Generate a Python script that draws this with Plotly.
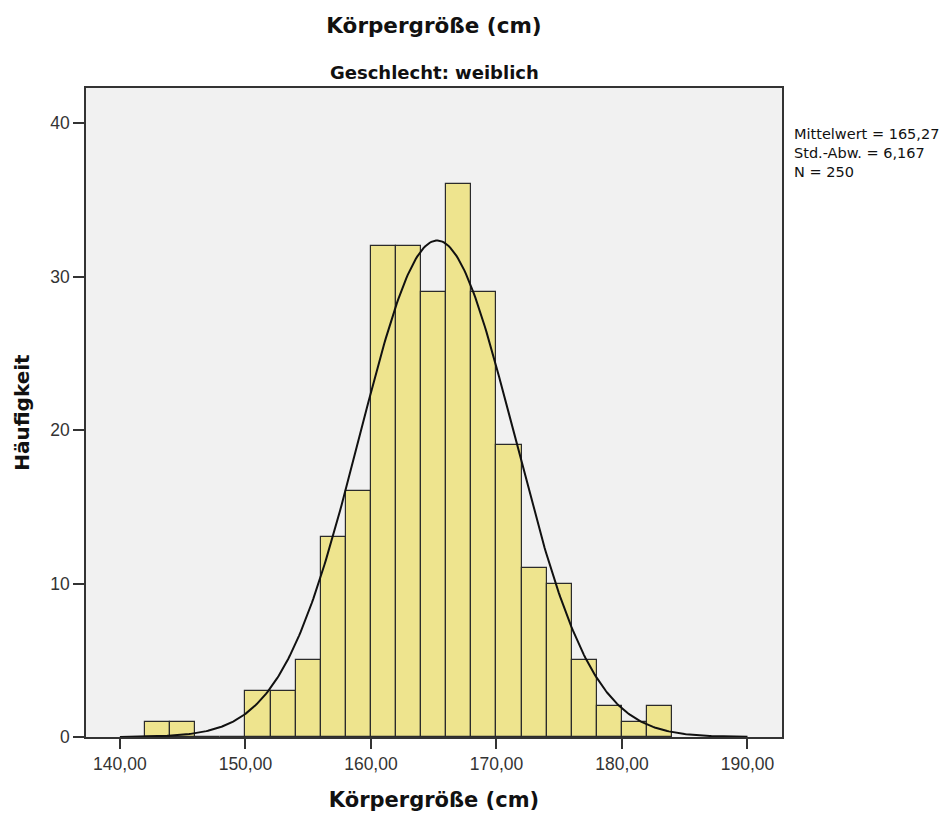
import numpy as np
import plotly.graph_objects as go

bin_left = [142, 144, 146, 148, 150, 152, 154, 156, 158, 160, 162, 164, 166, 168, 170, 172, 174, 176, 178, 180, 182]
counts = [1, 1, 0, 0, 3, 3, 5, 13, 16, 32, 32, 29, 36, 29, 19, 11, 10, 5, 2, 1, 2]
bin_width = 2
mean = 165.27
sd = 6.167
n = 250
x_ticks = [140, 150, 160, 170, 180, 190]
y_ticks = [0, 10, 20, 30, 40]

centers = [b + bin_width / 2 for b in bin_left]
xs = np.linspace(140, 190, 400)
ys = n * bin_width / (sd * np.sqrt(2 * np.pi)) * np.exp(-0.5 * ((xs - mean) / sd) ** 2)

reg = "Liberation Sans, Arial, sans-serif"
bold = "DejaVu Sans, Verdana, sans-serif"
fig = go.Figure()
fig.add_trace(go.Bar(x=centers, y=counts, width=bin_width,
                     marker=dict(color="#EEE48E", line=dict(color="#2b2b2b", width=1.2)),
                     hoverinfo="x+y"))
fig.add_trace(go.Scatter(x=xs, y=ys, mode="lines", line=dict(color="#111111", width=2),
                         hoverinfo="skip"))

fig.update_layout(
    width=951, height=814,
    margin=dict(l=86, r=169, t=88, b=77),
    paper_bgcolor="white", plot_bgcolor="#F1F1F1",
    showlegend=False, bargap=0,
    separators=",.",
    font=dict(family=reg, color="#222"),
    title=dict(text="<b>Körpergröße (cm)</b>", x=0.5, xanchor="center", y=0.969, yanchor="middle",
               xref="paper", font=dict(size=21.5, family=bold, color="#111")),
)
fig.update_xaxes(range=[137.3, 192.75], tickvals=x_ticks, tickformat=".2f", automargin=False,
                 ticks="outside", ticklen=10, tickwidth=2, tickcolor="#333",
                 showline=True, linecolor="#333", linewidth=1.5, mirror=True,
                 showgrid=False, zeroline=False,
                 tickfont=dict(size=17.5, color="#333"),
                 title=dict(text="<b>Körpergröße (cm)</b>", font=dict(size=21, family=bold, color="#111"), standoff=20))
fig.update_yaxes(range=[0, 42.28], tickvals=y_ticks, automargin=False,
                 ticks="outside", ticklen=11, tickwidth=2, tickcolor="#333",
                 showline=True, linecolor="#333", linewidth=1.5, mirror=True,
                 showgrid=False, zeroline=False,
                 tickfont=dict(size=17.5, color="#333"),
                 title=dict(text="<b>Häufigkeit</b>", font=dict(size=20, family=bold, color="#111"), standoff=15))

fig.add_annotation(text="<b>Geschlecht: weiblich</b>", xref="paper", yref="paper",
                   x=0.5, y=1.0, yshift=16, showarrow=False, xanchor="center", yanchor="middle",
                   font=dict(size=18, family=bold, color="#111"))
fig.add_annotation(text="Mittelwert = 165,27<br>Std.-Abw. = 6,167<br>N = 250",
                   xref="paper", yref="paper", x=1.0, xshift=10, y=0.945,
                   showarrow=False, xanchor="left", yanchor="top", align="left",
                   font=dict(size=14.5, family=bold, color="#111"))

fig.write_html("out.html")
